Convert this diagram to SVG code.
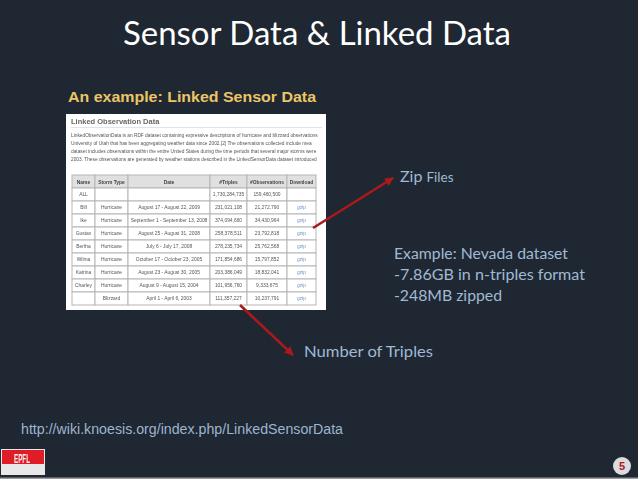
<svg xmlns="http://www.w3.org/2000/svg" width="638" height="479" viewBox="0 0 638 479">
<style>
.s{font-family:"Liberation Sans",Arial,sans-serif}
.c{font-family:Lato,"Open Sans",sans-serif;fill:#a0bad4}
.t{font-family:"Liberation Sans",Arial,sans-serif;font-size:4.9px;fill:#555;text-anchor:middle}
.h{font-weight:bold;fill:#444}
.l{fill:#6f94c4}
.p{font-family:"Liberation Sans",Arial,sans-serif;font-size:4.8px;fill:#555}
.cell{fill:#fff;stroke:#b5b5b5;stroke-width:1}
.hd{fill:#e0e0e0;stroke:#b5b5b5;stroke-width:1}
.a{stroke:#a81a1c;stroke-width:2.6;fill:none;marker-end:url(#ah)}
</style>
<defs>
<marker id="ah" markerUnits="userSpaceOnUse" markerWidth="9" markerHeight="9" refX="8" refY="4.500" orient="auto"><path d="M0 0L9 4.500L0 9Z" fill="#a81a1c"/></marker>
<filter id="b" x="-2%" y="-2%" width="104%" height="104%"><feGaussianBlur stdDeviation="0.450"/></filter>
</defs>
<rect width="638" height="479" fill="#1f2732"/>
<rect y="477.500" width="638" height="1.500" fill="#9a9ca0"/>
<text x="123" y="45" font-family="Lato,'Open Sans',sans-serif" font-size="32" fill="#fff" textLength="388" lengthAdjust="spacingAndGlyphs">Sensor Data &amp; Linked Data</text>
<text class="s" x="68" y="102" font-size="14.500" font-weight="bold" fill="#ecc566" textLength="248" lengthAdjust="spacingAndGlyphs">An example: Linked Sensor Data</text>
<g id="screenshot" filter="url(#b)">
<rect x="66" y="114" width="260" height="196" fill="#fff"/>
<text class="s" x="71" y="124" font-size="7.500" font-weight="bold" fill="#666">Linked Observation Data</text>
<path d="M71 127.500H322" stroke="#ddd" stroke-width="0.800"/>
<text class="p" x="71" y="137">LinkedObservationData is an RDF dataset containing expressive descriptions of hurricane and blizzard observations</text>
<text class="p" x="71" y="145">University of Utah that has been aggregating weather data since 2002.[2] The observations collected include mea</text>
<text class="p" x="71" y="153">dataset includes observations within the entire United States during the time periods that several major storms were</text>
<text class="p" x="71" y="161">2003. These observations are generated by weather stations described in the LinkedSensorData dataset introduced</text>
<g id="table">
<rect class="hd" x="72" y="175" width="23" height="13"/><rect class="hd" x="95" y="175" width="33" height="13"/><rect class="hd" x="128" y="175" width="82" height="13"/><rect class="hd" x="210" y="175" width="37" height="13"/><rect class="hd" x="247" y="175" width="40" height="13"/><rect class="hd" x="287" y="175" width="29" height="13"/>
<rect class="cell" x="72" y="188" width="23" height="13"/><rect class="cell" x="95" y="188" width="33" height="13"/><rect class="cell" x="128" y="188" width="82" height="13"/><rect class="cell" x="210" y="188" width="37" height="13"/><rect class="cell" x="247" y="188" width="40" height="13"/><rect class="cell" x="287" y="188" width="29" height="13"/>
<rect class="cell" x="72" y="201" width="23" height="13"/><rect class="cell" x="95" y="201" width="33" height="13"/><rect class="cell" x="128" y="201" width="82" height="13"/><rect class="cell" x="210" y="201" width="37" height="13"/><rect class="cell" x="247" y="201" width="40" height="13"/><rect class="cell" x="287" y="201" width="29" height="13"/>
<rect class="cell" x="72" y="214" width="23" height="13"/><rect class="cell" x="95" y="214" width="33" height="13"/><rect class="cell" x="128" y="214" width="82" height="13"/><rect class="cell" x="210" y="214" width="37" height="13"/><rect class="cell" x="247" y="214" width="40" height="13"/><rect class="cell" x="287" y="214" width="29" height="13"/>
<rect class="cell" x="72" y="227" width="23" height="13"/><rect class="cell" x="95" y="227" width="33" height="13"/><rect class="cell" x="128" y="227" width="82" height="13"/><rect class="cell" x="210" y="227" width="37" height="13"/><rect class="cell" x="247" y="227" width="40" height="13"/><rect class="cell" x="287" y="227" width="29" height="13"/>
<rect class="cell" x="72" y="240" width="23" height="13"/><rect class="cell" x="95" y="240" width="33" height="13"/><rect class="cell" x="128" y="240" width="82" height="13"/><rect class="cell" x="210" y="240" width="37" height="13"/><rect class="cell" x="247" y="240" width="40" height="13"/><rect class="cell" x="287" y="240" width="29" height="13"/>
<rect class="cell" x="72" y="253" width="23" height="13"/><rect class="cell" x="95" y="253" width="33" height="13"/><rect class="cell" x="128" y="253" width="82" height="13"/><rect class="cell" x="210" y="253" width="37" height="13"/><rect class="cell" x="247" y="253" width="40" height="13"/><rect class="cell" x="287" y="253" width="29" height="13"/>
<rect class="cell" x="72" y="266" width="23" height="13"/><rect class="cell" x="95" y="266" width="33" height="13"/><rect class="cell" x="128" y="266" width="82" height="13"/><rect class="cell" x="210" y="266" width="37" height="13"/><rect class="cell" x="247" y="266" width="40" height="13"/><rect class="cell" x="287" y="266" width="29" height="13"/>
<rect class="cell" x="72" y="279" width="23" height="13"/><rect class="cell" x="95" y="279" width="33" height="13"/><rect class="cell" x="128" y="279" width="82" height="13"/><rect class="cell" x="210" y="279" width="37" height="13"/><rect class="cell" x="247" y="279" width="40" height="13"/><rect class="cell" x="287" y="279" width="29" height="13"/>
<rect class="cell" x="72" y="292" width="23" height="13"/><rect class="cell" x="95" y="292" width="33" height="13"/><rect class="cell" x="128" y="292" width="82" height="13"/><rect class="cell" x="210" y="292" width="37" height="13"/><rect class="cell" x="247" y="292" width="40" height="13"/><rect class="cell" x="287" y="292" width="29" height="13"/>
<text class="t h" x="83.500" y="183.500">Name</text><text class="t h" x="111.500" y="183.500">Storm Type</text><text class="t h" x="169" y="183.500">Date</text><text class="t h" x="228.500" y="183.500">#Triples</text><text class="t h" x="267" y="183.500">#Observations</text><text class="t h" x="301.500" y="183.500">Download</text>
<text class="t" x="83.500" y="196">ALL</text><text class="t" x="228.500" y="196">1,730,284,735</text><text class="t" x="267" y="196">159,460,500</text>
<text class="t" x="83.500" y="209">Bill</text><text class="t" x="111.500" y="209">Hurricane</text><text class="t" x="169" y="209">August 17 - August 22, 2009</text><text class="t" x="228.500" y="209">231,021,108</text><text class="t" x="267" y="209">21,272,790</text><text class="t l" x="301.500" y="209">gzip</text>
<text class="t" x="83.500" y="222">Ike</text><text class="t" x="111.500" y="222">Hurricane</text><text class="t" x="169" y="222">September 1 - September 13, 2008</text><text class="t" x="228.500" y="222">374,094,660</text><text class="t" x="267" y="222">34,430,964</text><text class="t l" x="301.500" y="222">gzip</text>
<text class="t" x="83.500" y="235">Gustav</text><text class="t" x="111.500" y="235">Hurricane</text><text class="t" x="169" y="235">August 25 - August 31, 2008</text><text class="t" x="228.500" y="235">258,378,511</text><text class="t" x="267" y="235">23,792,818</text><text class="t l" x="301.500" y="235">gzip</text>
<text class="t" x="83.500" y="248">Bertha</text><text class="t" x="111.500" y="248">Hurricane</text><text class="t" x="169" y="248">July 6 - July 17, 2008</text><text class="t" x="228.500" y="248">278,235,734</text><text class="t" x="267" y="248">25,762,568</text><text class="t l" x="301.500" y="248">gzip</text>
<text class="t" x="83.500" y="261">Wilma</text><text class="t" x="111.500" y="261">Hurricane</text><text class="t" x="169" y="261">October 17 - October 23, 2005</text><text class="t" x="228.500" y="261">171,854,686</text><text class="t" x="267" y="261">15,797,852</text><text class="t l" x="301.500" y="261">gzip</text>
<text class="t" x="83.500" y="274">Katrina</text><text class="t" x="111.500" y="274">Hurricane</text><text class="t" x="169" y="274">August 23 - August 30, 2005</text><text class="t" x="228.500" y="274">203,386,049</text><text class="t" x="267" y="274">18,832,041</text><text class="t l" x="301.500" y="274">gzip</text>
<text class="t" x="83.500" y="287">Charley</text><text class="t" x="111.500" y="287">Hurricane</text><text class="t" x="169" y="287">August 9 - August 15, 2004</text><text class="t" x="228.500" y="287">101,956,760</text><text class="t" x="267" y="287">9,333,675</text><text class="t l" x="301.500" y="287">gzip</text>
<text class="t" x="111.500" y="300">Blizzard</text><text class="t" x="169" y="300">April 1 - April 6, 2003</text><text class="t" x="228.500" y="300">111,357,227</text><text class="t" x="267" y="300">10,237,791</text><text class="t l" x="301.500" y="300">gzip</text>
</g>
</g>
<g id="connectors">
<path class="a" d="M313 228L393 178"/>
<path class="a" d="M240 305L293 355"/>
</g>
<g id="zip-files"><text class="c" x="400" y="182" font-size="16">Zip <tspan font-size="13.500">Files</tspan></text></g>
<g id="example">
<text class="c" x="394" y="259" font-size="15.500" textLength="174" lengthAdjust="spacingAndGlyphs">Example: Nevada dataset</text>
<text class="c" x="394" y="280" font-size="15.500" textLength="191" lengthAdjust="spacingAndGlyphs">-7.86GB in n-triples format</text>
<text class="c" x="394" y="301" font-size="15.500" textLength="108" lengthAdjust="spacingAndGlyphs">-248MB zipped</text>
</g>
<g id="number-of-triples"><text class="c" x="304" y="357" font-size="15.500" textLength="129" lengthAdjust="spacingAndGlyphs">Number of Triples</text></g>
<text class="s" x="21" y="434" font-size="14" fill="#9db5cf" textLength="322" lengthAdjust="spacingAndGlyphs">http://wiki.knoesis.org/index.php/LinkedSensorData</text>
<g id="logo" filter="url(#b)">
<rect x="1" y="449" width="44" height="26" fill="#e8e8e8"/>
<rect x="2" y="450" width="42" height="14" fill="#e01f26"/>
<text x="22" y="463" text-anchor="middle" font-family="'Liberation Sans',sans-serif" font-size="12" font-weight="bold" fill="#f4f4f4" textLength="16" lengthAdjust="spacingAndGlyphs">EPFL</text>
</g>
<g id="page-number">
<circle cx="622" cy="466" r="9" fill="#dcdcdc"/>
<text x="622" y="470" text-anchor="middle" font-family="'Liberation Sans',sans-serif" font-size="11" font-weight="bold" fill="#b0172a">5</text>
</g>
</svg>
